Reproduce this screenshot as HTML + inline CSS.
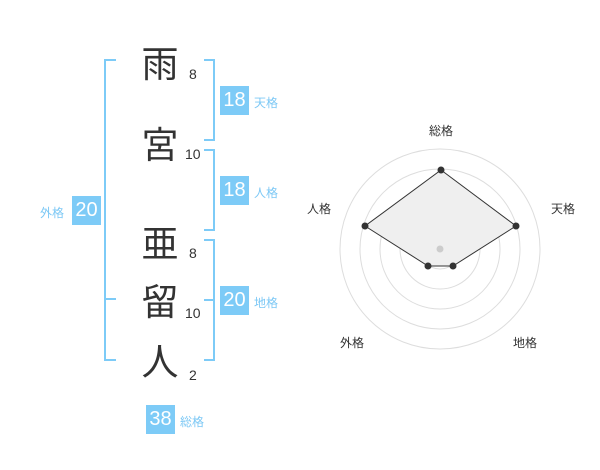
<!DOCTYPE html>
<html><head><meta charset="utf-8"><style>
body{margin:0;width:600px;height:470px;background:#fff;position:relative;font-family:"Liberation Sans","Noto Sans CJK JP",sans-serif;overflow:hidden}
.k{position:absolute;left:140px;width:40px;text-align:center;font-size:37px;line-height:40px;color:#333;font-family:"Noto Sans CJK JP",sans-serif}
.n{position:absolute;font-size:14px;color:#333;line-height:14px}
.b{position:absolute;width:29px;height:29px;background:#7dcbf7;color:#fff;font-size:20px;line-height:29px;text-align:center}
.l{position:absolute;font-size:12px;color:#7cc8f5;line-height:14px;font-family:"Noto Sans CJK JP",sans-serif}
</style></head><body>
<svg width="600" height="470" style="position:absolute;left:0;top:0">
<g stroke="#7dcbf7" stroke-width="2" fill="none">
<path d="M116 60H105V360H116M105 299H116"/>
<path d="M204 60H214V140H204"/>
<path d="M204 150H214V230H204"/>
<path d="M204 240H214V360H204M204 300H214"/>
</g>
<g stroke="#ddd" fill="none">
<circle cx="440" cy="249" r="100"/><circle cx="440" cy="249" r="80"/><circle cx="440" cy="249" r="60"/><circle cx="440" cy="249" r="40"/><circle cx="440" cy="249" r="20"/>
</g>
<polygon points="441,170 516,226 453,266 428,266 365,226" fill="#efefef" stroke="#333" stroke-width="1"/>
<circle cx="440" cy="249" r="3.5" fill="#ccc"/>
<g fill="#333"><circle cx="441" cy="170" r="3.5"/><circle cx="516" cy="226" r="3.5"/><circle cx="453" cy="266" r="3.5"/><circle cx="428" cy="266" r="3.5"/><circle cx="365" cy="226" r="3.5"/></g>
<g font-size="12" fill="#333" font-family="Noto Sans CJK JP,sans-serif" text-anchor="middle">
<text x="441" y="135">総格</text><text x="563" y="213">天格</text><text x="319" y="213">人格</text><text x="352" y="347">外格</text><text x="525" y="347">地格</text>
</g>
</svg>
<div class="k" style="top:41px">雨</div>
<div class="k" style="top:122px">宮</div>
<div class="k" style="top:221px">亜</div>
<div class="k" style="top:279px">留</div>
<div class="k" style="top:339px">人</div>
<div class="n" style="left:189px;top:67px">8</div>
<div class="n" style="left:185px;top:147px">10</div>
<div class="n" style="left:189px;top:246px">8</div>
<div class="n" style="left:185px;top:306px">10</div>
<div class="n" style="left:189px;top:368px">2</div>
<div class="b" style="left:220px;top:86px">18</div><div class="l" style="left:254px;top:96px">天格</div>
<div class="b" style="left:220px;top:176px">18</div><div class="l" style="left:254px;top:186px">人格</div>
<div class="b" style="left:220px;top:286px">20</div><div class="l" style="left:254px;top:296px">地格</div>
<div class="b" style="left:72px;top:196px">20</div><div class="l" style="left:40px;top:206px">外格</div>
<div class="b" style="left:146px;top:405px">38</div><div class="l" style="left:180px;top:415px">総格</div>
</body></html>
